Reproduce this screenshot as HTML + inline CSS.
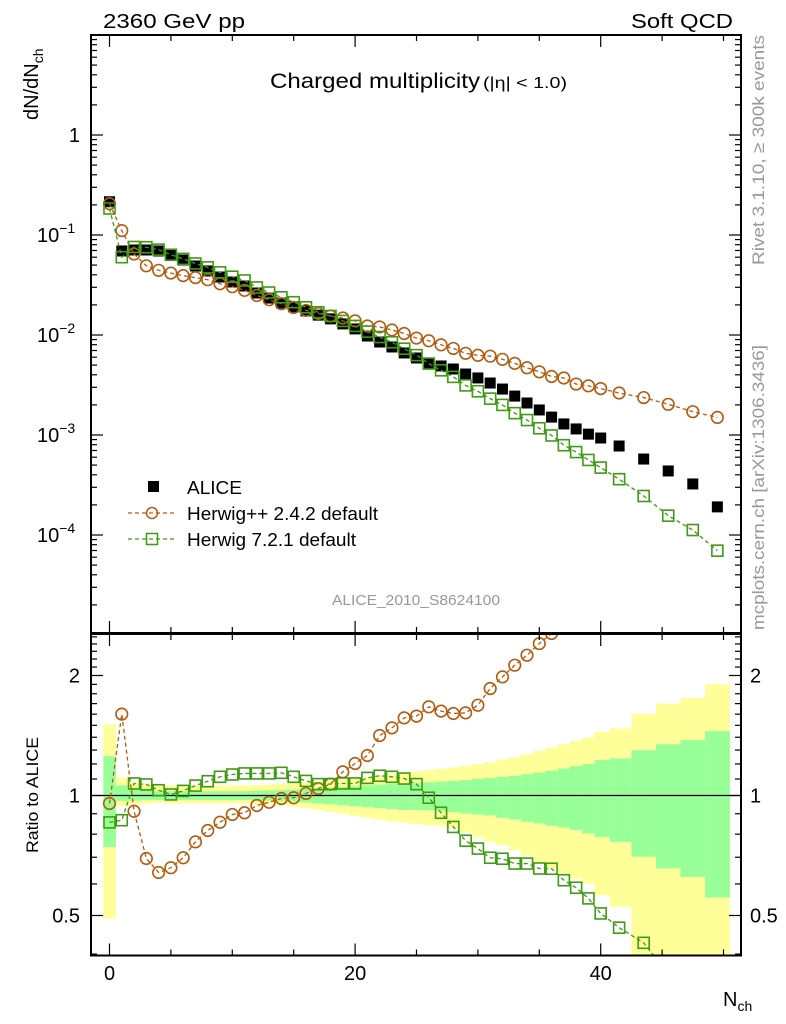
<!DOCTYPE html>
<html><head><meta charset="utf-8"><style>
html,body{margin:0;padding:0;background:#fff}
svg{display:block;font-family:"Liberation Sans",sans-serif}
</style></head><body>
<svg id="chart" width="786" height="1024" viewBox="0 0 786 1024">
<defs>
<clipPath id="clipMain"><rect x="91" y="35" width="650" height="598"/></clipPath>
<clipPath id="clipRatio"><rect x="91" y="634" width="650" height="322"/></clipPath>
</defs>
<g id="bands" clip-path="url(#clipRatio)"></g>
<g id="marks"></g>
<text x="103" y="28" font-size="20" textLength="142" lengthAdjust="spacingAndGlyphs">2360 GeV pp</text>
<text x="631" y="28" font-size="20" textLength="102" lengthAdjust="spacingAndGlyphs">Soft QCD</text>
<text x="270" y="88" font-size="21" textLength="210" lengthAdjust="spacingAndGlyphs">Charged multiplicity</text>
<text x="483" y="88" font-size="16" textLength="84" lengthAdjust="spacingAndGlyphs">(|η| &lt; 1.0)</text>
<text transform="translate(38,120) rotate(-90)" font-size="20">dN/dN<tspan font-size="14" dy="5">ch</tspan></text>
<text transform="translate(38,853) rotate(-90)" font-size="17" textLength="116" lengthAdjust="spacingAndGlyphs">Ratio to ALICE</text>
<text x="723" y="1006" font-size="20">N<tspan font-size="14" dy="5">ch</tspan></text>
<text transform="translate(764,265) rotate(-90)" font-size="17" fill="#999" textLength="230" lengthAdjust="spacingAndGlyphs">Rivet 3.1.10, ≥ 300k events</text>
<text transform="translate(764,630) rotate(-90)" font-size="17" fill="#999" textLength="285" lengthAdjust="spacingAndGlyphs">mcplots.cern.ch [arXiv:1306.3436]</text>
<text x="332" y="605" font-size="15" fill="#999" textLength="168" lengthAdjust="spacingAndGlyphs">ALICE_2010_S8624100</text>
<g>
<rect x="148" y="481" width="11" height="11" fill="#000"/>
<text x="187" y="494" font-size="18" textLength="55" lengthAdjust="spacingAndGlyphs">ALICE</text>
<line x1="128" y1="513" x2="175" y2="513" stroke="#b35c0e" stroke-width="1.2" stroke-dasharray="4,3"/>
<circle cx="152" cy="513" r="5.5" fill="none" stroke="#b35c0e" stroke-width="1.5"/>
<text x="187" y="520" font-size="18" textLength="191" lengthAdjust="spacingAndGlyphs">Herwig++ 2.4.2 default</text>
<line x1="128" y1="539" x2="175" y2="539" stroke="#3f9a14" stroke-width="1.2" stroke-dasharray="4,3"/>
<rect x="146.5" y="533.5" width="11" height="11" fill="none" stroke="#3f9a14" stroke-width="1.5"/>
<text x="187" y="546" font-size="18" textLength="169" lengthAdjust="spacingAndGlyphs">Herwig 7.2.1 default</text>
</g>
<g id="axes"></g>
</svg>
<script>
const nch = [0,1,2,3,4,5,6,7,8,9,10,11,12,13,14,15,16,17,18,19,20,21,22,23,24,25,26,27,28,29,30,31,32,33,34,35,36,37,38,39,40,41.5,43.5,45.5,47.5,49.5];
const aliceValues = [0.215,0.0692,0.0708,0.0708,0.0692,0.0631,0.0562,0.0490,0.0437,0.0380,0.0339,0.0309,0.0263,0.0234,0.0209,0.0191,0.0174,0.0158,0.0145,0.0129,0.0115,0.00977,0.00851,0.00759,0.00661,0.00589,0.00525,0.00490,0.00457,0.00407,0.00372,0.00331,0.00288,0.00245,0.00209,0.00178,0.00151,0.00129,0.00115,0.00102,0.000933,0.000776,0.000575,0.000437,0.000324,0.000191];
const herwigppRatio = [0.955,1.60,0.913,0.695,0.641,0.659,0.698,0.765,0.817,0.857,0.896,0.905,0.944,0.962,0.983,0.987,1.012,1.041,1.068,1.146,1.203,1.260,1.414,1.478,1.566,1.582,1.669,1.628,1.606,1.612,1.685,1.855,1.984,2.123,2.249,2.405,2.55,2.88,2.81,3.04,3.12,3.39,4.12,4.64,5.28,7.85];
const herwig7Ratio = [0.856,0.867,1.072,1.066,1.031,1.006,1.027,1.059,1.086,1.114,1.129,1.136,1.136,1.136,1.140,1.114,1.088,1.068,1.068,1.072,1.072,1.107,1.121,1.114,1.103,1.068,0.987,0.905,0.834,0.770,0.736,0.698,0.694,0.675,0.675,0.656,0.655,0.613,0.587,0.552,0.506,0.466,0.427,0.357,0.346,0.365];
const yellowHi = [1.507,1.11,1.08,1.07,1.065,1.06,1.06,1.06,1.06,1.06,1.06,1.06,1.062,1.065,1.07,1.075,1.08,1.085,1.09,1.095,1.10,1.11,1.12,1.13,1.14,1.15,1.158,1.167,1.176,1.185,1.199,1.212,1.231,1.245,1.267,1.294,1.317,1.345,1.371,1.398,1.445,1.473,1.600,1.701,1.758,1.902];
const greenHi = [1.255,1.06,1.04,1.03,1.025,1.025,1.025,1.025,1.025,1.025,1.025,1.025,1.027,1.03,1.032,1.035,1.04,1.042,1.045,1.05,1.055,1.06,1.065,1.07,1.072,1.076,1.080,1.084,1.088,1.093,1.101,1.107,1.114,1.121,1.131,1.142,1.153,1.169,1.185,1.199,1.227,1.238,1.299,1.345,1.377,1.450];
const greenLo = [0.743,0.97,0.97,0.975,0.975,0.975,0.975,0.975,0.975,0.975,0.975,0.975,0.973,0.97,0.968,0.965,0.96,0.955,0.95,0.945,0.94,0.935,0.93,0.925,0.92,0.92,0.919,0.915,0.908,0.901,0.896,0.891,0.879,0.871,0.859,0.851,0.839,0.831,0.819,0.803,0.787,0.765,0.702,0.656,0.625,0.555];
const yellowLo = [0.491,0.94,0.95,0.955,0.96,0.955,0.955,0.955,0.955,0.955,0.955,0.955,0.952,0.95,0.945,0.94,0.93,0.92,0.91,0.90,0.89,0.88,0.87,0.86,0.855,0.848,0.841,0.838,0.830,0.811,0.787,0.765,0.751,0.729,0.708,0.675,0.656,0.637,0.619,0.601,0.562,0.526,0.3,0.3,0.3,0.3];
const xTickLabels = ["0","20","40"];
const mainTickLabels = ["1","10","10","10","10"];
const mainTickExps = [null,"−1","−2","−3","−4"];
const ratioTickLabels = ["0.5","1","2"];

const NS="http://www.w3.org/2000/svg";
const xs = n => 109.5 + 12.28*n;
const yMain = v => 135 - 100*Math.log10(v);
const yRat = r => 795.5 - 120*Math.log2(r);
function mk(tag, attrs, parent){const e=document.createElementNS(NS,tag);for(const k in attrs)e.setAttribute(k,attrs[k]);parent.appendChild(e);return e;}
const bands=document.getElementById('bands');
const marks=document.getElementById('marks');
const axes=document.getElementById('axes');

function edges(i){const lo=i===0?nch[0]-0.5:(nch[i-1]+nch[i])/2;const hi=i===nch.length-1?nch[i]+1:(nch[i]+nch[i+1])/2;return [lo,hi];}
for(let i=0;i<nch.length;i++){
  const [lo,hi]=edges(i);
  const y1=mk('rect',{x:xs(lo),y:yRat(yellowHi[i]),width:xs(hi)-xs(lo)+0.3,height:yRat(yellowLo[i])-yRat(yellowHi[i]),fill:'#ffff99'},bands);
  
  
  const g1=mk('rect',{x:xs(lo),y:yRat(greenHi[i]),width:xs(hi)-xs(lo)+0.3,height:yRat(greenLo[i])-yRat(greenHi[i]),fill:'#99ff99'},bands);
  
  
}
const one=mk('line',{x1:91,x2:741,y1:yRat(1),y2:yRat(1),stroke:'#000','stroke-width':1.2},marks);



function series(vals, color, kind, clip, yfn, name){
  const g=mk('g',{'clip-path':`url(#${clip})`},marks);
  
  
  const pts=nch.map((n,i)=>[xs(n),yfn(vals[i])]);
  const p=mk('polyline',{points:pts.map(p=>p.join(',')).join(' '),fill:'none',stroke:color,'stroke-width':1.3,'stroke-dasharray':'4,3'},g);
  
  
  pts.forEach(([x,y])=>{
    let m;
    if(kind==='c') m=mk('circle',{cx:x,cy:y,r:5.8,fill:'none',stroke:color,'stroke-width':1.6},g);
    else m=mk('rect',{x:x-5.5,y:y-5.5,width:11,height:11,fill:'none',stroke:color,'stroke-width':1.6},g);
    
    
  });
}
const ga=mk('g',{'clip-path':'url(#clipMain)'},marks);


nch.forEach((n,i)=>{
  const r=mk('rect',{x:xs(n)-5.5,y:yMain(aliceValues[i])-5.5,width:11,height:11,fill:'#000'},ga);
  
  
});
series(aliceValues.map((v,i)=>v*herwigppRatio[i]),'#b35c0e','c','clipMain',yMain,'herwigpp-series');
series(aliceValues.map((v,i)=>v*herwig7Ratio[i]),'#3f9a14','s','clipMain',yMain,'herwig7-series');
series(herwigppRatio,'#b35c0e','c','clipRatio',yRat,'herwigpp-ratio');
series(herwig7Ratio,'#3f9a14','s','clipRatio',yRat,'herwig7-ratio');

[[35,633],[634,955.5]].forEach(([t,b],k)=>{
  const f=mk('rect',{x:91,y:t,width:650,height:b-t,fill:'none',stroke:'#000','stroke-width':2},axes);
  
  
});
for(let n=0;n<=50;n+=5){
  const L=(n%20===0)?12:6;
  [[35,1],[633,-1],[634,1],[955.5,-1]].forEach(([y,d])=>{
    mk('line',{x1:xs(n),x2:xs(n),y1:y,y2:y+d*L,stroke:'#000','stroke-width':1.2},axes);
  });
}
[0,20,40].forEach((n,i)=>{
  const t=mk('text',{x:xs(n),y:980,'font-size':20,'text-anchor':'middle'},axes);
  t.textContent=xTickLabels[i];
  
  
});
for(let e=-5;e<=0;e++){
  for(let m=1;m<10;m++){
    const v=m*Math.pow(10,e), y=yMain(v);
    if(y<35||y>633) continue;
    const L=m===1?12:6;
    mk('line',{x1:91,x2:91+L,y1:y,y2:y,stroke:'#000','stroke-width':1.2},axes);
    mk('line',{x1:741,x2:741-L,y1:y,y2:y,stroke:'#000','stroke-width':1.2},axes);
  }
}
mainTickLabels.forEach((lab,i)=>{
  const y=yMain(Math.pow(10,-i));
  const t=mk('text',{x:80,y:y+7,'font-size':20,'text-anchor':'end'},axes);
  t.textContent=lab;
  if(mainTickExps[i]){const s=mk('tspan',{'font-size':14,dy:-9},t);s.textContent=mainTickExps[i];t.setAttribute('text-anchor','start');t.setAttribute('x',37);}
  
  
});
for(let r=0.4;r<=2.55;r+=0.1){
  const y=yRat(r); if(y<634||y>955) continue;
  const major=Math.abs(r-0.5)<1e-6||Math.abs(r-1)<1e-6||Math.abs(r-2)<1e-6;
  const L=major?12:6;
  mk('line',{x1:91,x2:91+L,y1:y,y2:y,stroke:'#000','stroke-width':1.2},axes);
  mk('line',{x1:741,x2:741-L,y1:y,y2:y,stroke:'#000','stroke-width':1.2},axes);
}
[0.5,1,2].forEach((r,i)=>{
  const y=yRat(r)+7;
  const a=mk('text',{x:80,y:y,'font-size':20,'text-anchor':'end'},axes);
  a.textContent=ratioTickLabels[i];
  
  
  const b=mk('text',{x:750,y:y,'font-size':20},axes);
  b.textContent=ratioTickLabels[i];
  
  
});
</script>
</body></html>
